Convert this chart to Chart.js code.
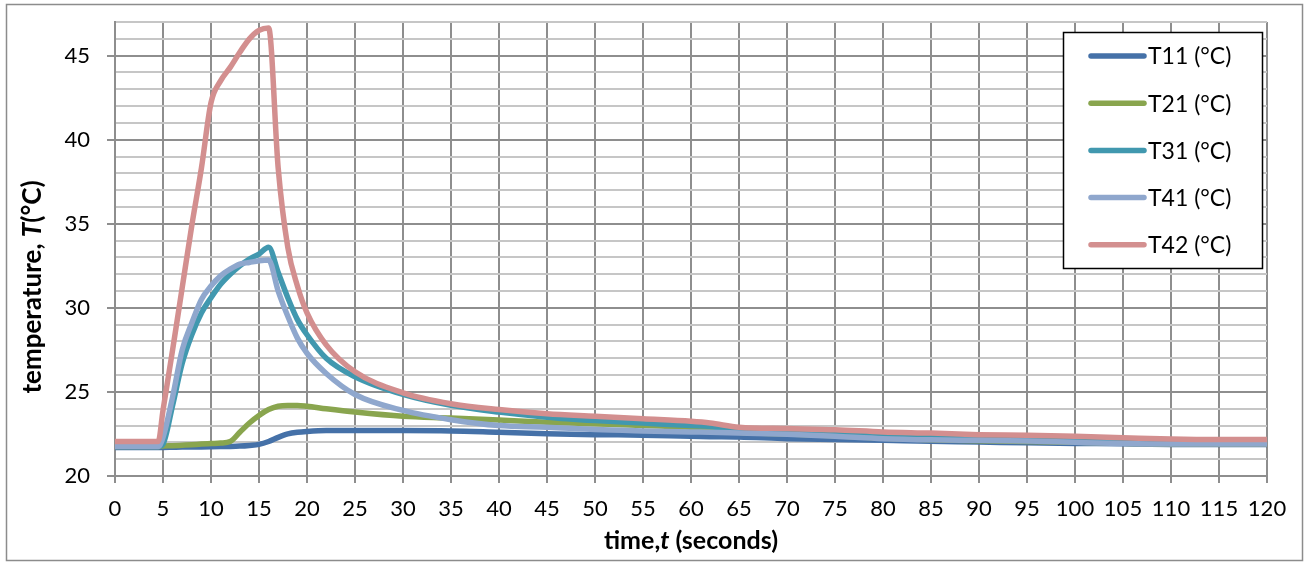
<!DOCTYPE html>
<html>
<head>
<meta charset="utf-8">
<script src="https://cdn.jsdelivr.net/npm/chart.js@4.4.1/dist/chart.umd.min.js"></script>
<style>
  html, body { margin: 0; padding: 0; background: #fff; }
  #wrap { width: 1305px; height: 562px; position: relative; }
</style>
</head>
<body>
<div id="wrap"><canvas id="c" width="1305" height="562"></canvas></div>
<script>
// ---- data ----
const times = [0, 4.5, 5, 6, 7, 8, 9, 10, 11, 12, 13, 14, 15, 16, 17, 18, 19, 20, 22, 25, 30, 35, 40, 45, 50, 55, 60, 62, 65, 70, 75, 80, 85, 90, 95, 100, 105, 110, 115, 120];

const T11 = [21.7, 21.7, 21.7, 21.71, 21.72, 21.72, 21.73, 21.74, 21.75, 21.76, 21.78, 21.82, 21.88, 22.05, 22.3, 22.5, 22.6, 22.65, 22.7, 22.7, 22.7, 22.68, 22.6, 22.52, 22.46, 22.43, 22.36, 22.34, 22.32, 22.22, 22.17, 22.12, 22.06, 22.02, 21.97, 21.94, 21.92, 21.88, 21.88, 21.88];
const T21 = [21.75, 21.75, 21.78, 21.8, 21.83, 21.86, 21.9, 21.93, 21.96, 22.05, 22.6, 23.15, 23.6, 23.95, 24.15, 24.2, 24.2, 24.15, 24.0, 23.8, 23.55, 23.45, 23.33, 23.2, 23.1, 23.0, 22.9, 22.85, 22.6, 22.5, 22.4, 22.25, 22.15, 22.1, 22.05, 22.0, 21.95, 21.9, 21.9, 21.9];
const T31 = [21.75, 21.75, 21.9, 24.2, 26.7, 28.4, 29.7, 30.6, 31.4, 32.0, 32.5, 32.9, 33.2, 33.6, 32.1, 30.6, 29.3, 28.4, 27.0, 25.9, 24.85, 24.2, 23.8, 23.5, 23.3, 23.15, 23.0, 22.95, 22.7, 22.6, 22.5, 22.4, 22.3, 22.2, 22.15, 22.1, 22.0, 21.95, 21.95, 21.95];
const T41 = [21.75, 21.75, 22.3, 24.7, 27.5, 29.1, 30.5, 31.3, 31.9, 32.3, 32.6, 32.7, 32.8, 32.85, 31.0, 29.5, 28.2, 27.3, 26.1, 24.85, 23.9, 23.35, 23.0, 22.9, 22.76, 22.68, 22.62, 22.6, 22.56, 22.48, 22.36, 22.22, 22.15, 22.12, 22.08, 22.0, 21.93, 21.9, 21.9, 21.9];
const T42 = [22.05, 22.05, 23.9, 27.5, 31.2, 34.9, 38.3, 42.2, 43.5, 44.3, 45.2, 46.0, 46.5, 46.65, 38.3, 33.6, 31.3, 29.7, 27.8, 26.2, 24.95, 24.3, 23.95, 23.7, 23.55, 23.4, 23.25, 23.15, 22.9, 22.82, 22.75, 22.62, 22.55, 22.46, 22.42, 22.36, 22.28, 22.2, 22.17, 22.17];

const seriesNames = ['T11 (°C)', 'T21 (°C)', 'T31 (°C)', 'T41 (°C)', 'T42 (°C)'];
const seriesValues = [T11, T21, T31, T41, T42];
const seriesColors = ['#4571A8', '#89A54E', '#4198AF', '#8FA7CD', '#D38F8F'];

const xTickStep = 5, xMin = 0, xMax = 120;
const yMin = 20, yMax = 47, yMajor = 5;

const FONT = 'Lato, "Open Sans", sans-serif';
const GRID_DARK = '#8e8e8e';
const GRID_LIGHT = '#c6c6c6';

const datasets = seriesNames.map((name, i) => ({
  label: name,
  data: times.map((t, k) => ({ x: t, y: seriesValues[i][k] })),
  borderColor: seriesColors[i],
  backgroundColor: seriesColors[i],
  borderWidth: 5.5,
  pointRadius: 0,
  fill: false,
  cubicInterpolationMode: 'monotone',
  borderCapStyle: 'round',
  borderJoinStyle: 'round',
  order: seriesNames.length - 1 - i
}));

const decorPlugin = {
  id: 'decor',
  afterDraw(chart) {
    const ctx = chart.ctx;
    const ca = chart.chartArea;
    ctx.save();
    // outer frame
    ctx.strokeStyle = '#8c8c8c';
    ctx.lineWidth = 1.5;
    ctx.strokeRect(6.5, 4.5, 1296, 556);

    // x axis title with italic t
    const xParts = [['time,', 'bold'], ['t', 'italic bold'], [' (seconds)', 'bold']];
    const xSize = 25;
    let w = 0;
    xParts.forEach(p => { ctx.font = p[1] + ' ' + xSize + 'px ' + FONT; w += ctx.measureText(p[0]).width; });
    let x = (ca.left + ca.right) / 2 - w / 2;
    ctx.fillStyle = '#000';
    ctx.textBaseline = 'alphabetic';
    ctx.textAlign = 'left';
    xParts.forEach(p => { ctx.font = p[1] + ' ' + xSize + 'px ' + FONT; ctx.fillText(p[0], x, 549); x += ctx.measureText(p[0]).width; });

    // y axis title (rotated)
    const yParts = [['temperature, ', 'bold'], ['T', 'italic bold'], ['(°C)', 'bold']];
    const ySize = 26;
    w = 0;
    yParts.forEach(p => { ctx.font = p[1] + ' ' + ySize + 'px ' + FONT; w += ctx.measureText(p[0]).width; });
    ctx.save();
    ctx.translate(41, 287);
    ctx.rotate(-Math.PI / 2);
    x = -w / 2;
    yParts.forEach(p => { ctx.font = p[1] + ' ' + ySize + 'px ' + FONT; ctx.fillText(p[0], x, 0); x += ctx.measureText(p[0]).width; });
    ctx.restore();

    // legend box
    const lx = 1063, ly = 32, lw = 199, lh = 236;
    ctx.fillStyle = '#fff';
    ctx.fillRect(lx, ly, lw, lh);
    ctx.strokeStyle = '#000';
    ctx.lineWidth = 1.5;
    ctx.strokeRect(lx + 0.5, ly + 0.5, lw, lh);
    const rowY0 = 56, rowStep = 47.2;
    seriesNames.forEach((name, i) => {
      const y = rowY0 + i * rowStep;
      ctx.strokeStyle = seriesColors[i];
      ctx.lineWidth = 5.5;
      ctx.lineCap = 'round';
      ctx.beginPath();
      ctx.moveTo(1091, y);
      ctx.lineTo(1144, y);
      ctx.stroke();
      ctx.fillStyle = '#000';
      ctx.font = '23px ' + FONT;
      ctx.textBaseline = 'middle';
      ctx.fillText(name, 1148, y + 1);
    });
    ctx.restore();
  }
};

new Chart(document.getElementById('c'), {
  type: 'line',
  data: { datasets },
  options: {
    responsive: false,
    animation: false,
    events: [],
    layout: { padding: { left: 0, top: 22, right: 38, bottom: 0 } },
    plugins: { legend: { display: false }, tooltip: { enabled: false } },
    scales: {
      x: {
        type: 'linear',
        min: xMin, max: xMax,
        afterFit(scale) { scale.height = 86; scale.paddingLeft = 0; scale.paddingRight = 0; },
        ticks: { stepSize: xTickStep, color: '#000', font: { family: FONT, size: 22 }, padding: 13, maxRotation: 0, autoSkip: false },
        grid: { color: GRID_DARK, lineWidth: 2, tickLength: 7, tickColor: GRID_DARK, tickWidth: 2 },
        border: { color: GRID_DARK, width: 2 }
      },
      y: {
        type: 'linear',
        min: yMin, max: yMax,
        afterFit(scale) { scale.width = 115; scale.paddingTop = 0; scale.paddingBottom = 0; },
        ticks: {
          stepSize: 1, color: '#000', font: { family: FONT, size: 22 }, padding: 17, autoSkip: false,
          callback: v => (v % yMajor === 0 ? String(v) : '')
        },
        grid: {
          color: c => (c.tick && c.tick.value % yMajor === 0 ? GRID_DARK : GRID_LIGHT),
          lineWidth: 2,
          tickLength: 8,
          tickColor: c => (c.tick && c.tick.value % yMajor === 0 ? GRID_DARK : 'rgba(0,0,0,0)'),
          tickWidth: 2
        },
        border: { color: GRID_DARK, width: 2 }
      }
    }
  },
  plugins: [decorPlugin]
});
</script>
</body>
</html>
